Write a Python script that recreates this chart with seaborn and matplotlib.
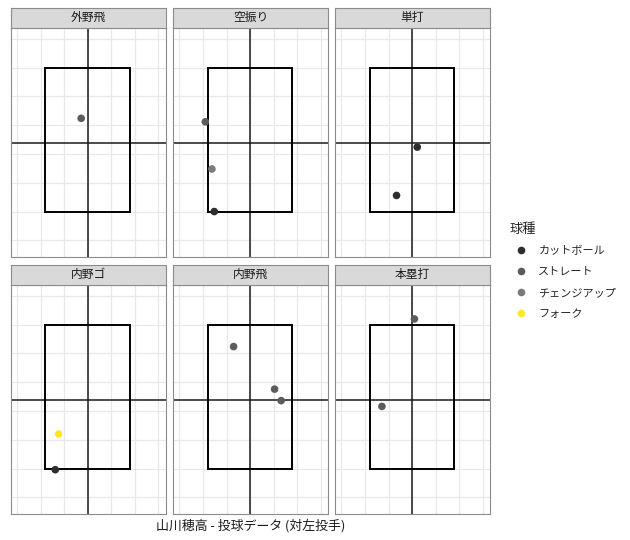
import matplotlib
matplotlib.use("Agg")
import matplotlib.pyplot as plt
from matplotlib.lines import Line2D
from matplotlib.patches import Rectangle
import numpy as np
import pandas as pd
import seaborn as sns

# panel order (facet_wrap, 3 columns)
results = ["外野飛", "空振り", "単打", "内野ゴ", "内野飛", "本塁打"]
pitch_types = ["カットボール", "ストレート", "チェンジアップ", "フォーク"]
type_colors = ["#2e2e2e", "#5c5c5c", "#7a7a7a", "#fde725"]

# one row per pitch
pitch_result = ["外野飛",
                "空振り", "空振り", "空振り",
                "単打", "単打",
                "内野ゴ", "内野ゴ",
                "内野飛", "内野飛", "内野飛",
                "本塁打", "本塁打"]
pitch_type = ["ストレート",
              "ストレート", "チェンジアップ", "カットボール",
              "カットボール", "カットボール",
              "フォーク", "カットボール",
              "ストレート", "ストレート", "ストレート",
              "ストレート", "ストレート"]
plate_x = [-0.14,
           -0.95, -0.81, -0.76,
           0.11, -0.33,
           -0.62, -0.69,
           -0.35, 0.52, 0.66,
           0.05, -0.64]
plate_z = [2.62,
           2.56, 1.74, 1.00,
           2.12, 1.28,
           1.60, 0.98,
           3.12, 2.38, 2.18,
           3.60, 2.08]

# strike zone and reference lines
zone_left, zone_right = -0.9, 0.9
zone_bottom, zone_top = 1.0, 3.5
mid_x, mid_z = 0.0, 2.2
x_range = (-1.63, 1.65)
z_range = (0.21, 4.19)

df = pd.DataFrame({"result": pitch_result, "type": pitch_type,
                   "x": plate_x, "z": plate_z})
palette = dict(zip(pitch_types, type_colors))

sns.set_style("white")
plt.rcParams["font.family"] = ["Noto Sans CJK JP", "DejaVu Sans"]

W, H = 630, 540
fig = plt.figure(figsize=(6.3, 5.4), dpi=100)

col_left = [11, 173.3, 335.3]
row_top = [28, 285]
pw, ph, sh = 154.5, 229, 20.5

for i, res in enumerate(results):
    r, c = divmod(i, 3)
    left, top = col_left[c], row_top[r]
    ax = fig.add_axes([left / W, (H - top - ph) / H, pw / W, ph / H])
    ax.set_xlim(*x_range)
    ax.set_ylim(*z_range)
    for gx in np.arange(-1.5, 1.51, 0.5):
        ax.axvline(gx, color="#e8e8e8", lw=0.9, zorder=0)
    for gz in np.arange(0.5, 4.01, 0.5):
        ax.axhline(gz, color="#e8e8e8", lw=0.9, zorder=0)
    ax.axvline(mid_x, color="#1a1a1a", lw=1.1, zorder=1)
    ax.axhline(mid_z, color="#1a1a1a", lw=1.1, zorder=1)
    ax.add_patch(Rectangle((zone_left, zone_bottom), zone_right - zone_left,
                           zone_top - zone_bottom, fill=False,
                           edgecolor="black", lw=1.4, zorder=2))
    sub = df[df["result"] == res]
    sns.scatterplot(data=sub, x="x", y="z", hue="type", hue_order=pitch_types,
                    palette=palette, s=30, edgecolor="none", legend=False,
                    ax=ax, zorder=3)
    ax.set_xticks([])
    ax.set_yticks([])
    ax.set_xlabel("")
    ax.set_ylabel("")
    for sp in ax.spines.values():
        sp.set_color("#8c8c8c")
        sp.set_linewidth(0.8)

    strip = fig.add_axes([left / W, (H - top) / H, pw / W, sh / H])
    strip.set_facecolor("#d9d9d9")
    strip.set_xticks([])
    strip.set_yticks([])
    for sp in strip.spines.values():
        sp.set_color("#8c8c8c")
        sp.set_linewidth(0.8)
    strip.text(0.5, 0.5, res, ha="center", va="center", fontsize=8.5,
               color="#1a1a1a", transform=strip.transAxes)

handles = [Line2D([], [], marker="o", linestyle="", markersize=5.5,
                  markerfacecolor=col, markeredgecolor="none")
           for col in type_colors]
leg = fig.legend(handles, pitch_types, title="球種", loc="upper left",
                 bbox_to_anchor=(505 / W, 1 - 219 / H), frameon=False,
                 fontsize=8, title_fontsize=9.5, handletextpad=0.6,
                 labelspacing=0.98, borderaxespad=0)
leg._legend_box.align = "left"
leg._legend_box.sep = 7

fig.text(251 / W, 1 - 526 / H, "山川穂高 - 投球データ (対左投手)",
         ha="center", va="center", fontsize=9.3, color="#1a1a1a")

fig.savefig("out.png", dpi=100, facecolor="white")
